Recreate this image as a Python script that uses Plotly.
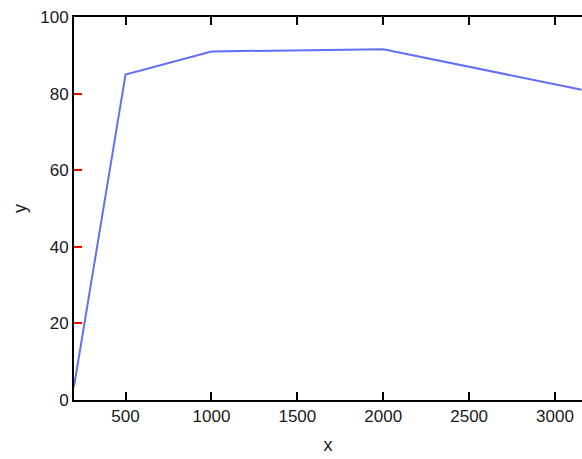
import plotly.graph_objects as go

wavelength = [200, 500, 1000, 2000, 3155]
transmittance = [3.5, 85, 91, 91.6, 81]

fig = go.Figure()
fig.add_trace(go.Scatter(x=wavelength, y=transmittance, mode="lines", name="test"))
fig.update_layout(width=582, height=459, margin=dict(l=74, r=0, t=17, b=59, autoexpand=False),
                  plot_bgcolor="white", font=dict(family="Liberation Sans, Arial, sans-serif", color="#1a1a1a"))
fig.update_xaxes(range=[200, 3157], dtick=500, ticks="inside", ticklen=8, tickwidth=2, tickcolor="black",
                 showline=True, linecolor="black", linewidth=2, mirror="ticks", tickfont=dict(size=17),
                 title=dict(text="x", font=dict(size=18), standoff=13))
fig.update_yaxes(range=[0, 100], dtick=20, ticks="inside", ticklen=8, tickwidth=2, tickcolor="red",
                 showline=True, linecolor="black", linewidth=2, tickfont=dict(size=17),
                 title=dict(text="y", font=dict(size=18), standoff=9))
fig.write_html("out.html", config={"displayModeBar": False},
               post_script="document.body.style.margin='0';document.body.style.overflow='hidden';")
